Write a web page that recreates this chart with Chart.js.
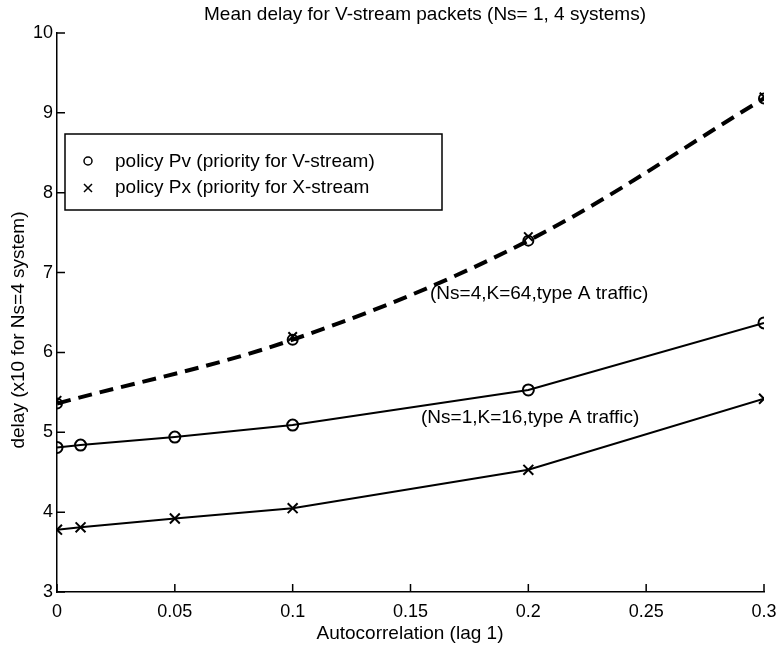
<!DOCTYPE html>
<html>
<head>
<meta charset="utf-8">
<script src="https://cdn.jsdelivr.net/npm/chart.js@4.4.1/dist/chart.umd.min.js"></script>
<style>
  html, body { margin: 0; padding: 0; background: #fff; }
  #wrap { width: 776px; height: 648px; position: relative; }
</style>
</head>
<body>
<div id="wrap"><canvas id="delayChart"></canvas></div>
<script>
// Mean delay for V-stream packets

// autocorrelation values
const xNs1 = [0, 0.01, 0.05, 0.1, 0.2, 0.3];
const xNs4 = [0, 0.1, 0.2, 0.3];

// Ns=1, K=16 system (solid)
const pvNs1 = [4.81, 4.84, 4.94, 5.09, 5.53, 6.37];
const pxNs1 = [3.78, 3.81, 3.92, 4.05, 4.53, 5.42];

// Ns=4, K=64 system, x10 (dashed)
const pvNs4 = [5.36, 6.16, 7.40, 9.18];
const pxNs4 = [5.40, 6.20, 7.45, 9.20];

const xTicks = [0, 0.05, 0.1, 0.15, 0.2, 0.25, 0.3];
const yTicks = [3, 4, 5, 6, 7, 8, 9, 10];

const titleText = 'Mean delay for V-stream packets (Ns= 1, 4 systems)';
const xTitle = 'Autocorrelation (lag 1)';
const yTitle = 'delay (x10 for Ns=4 system)';
const legendItems = ['policy Pv (priority for V-stream)', 'policy Px (priority for X-stream'];
const notes = ['(Ns=4,K=64,type A traffic)', '(Ns=1,K=16,type A traffic)'];

const FONT = '"Liberation Sans", Arial, Helvetica, sans-serif';

function pts(xs, ys) {
  return xs.map((x, i) => ({ x: x, y: ys[i] }));
}

// tick marks pointing into the plot, plus text and the boxed legend
const figurePlugin = {
  id: 'figure',
  afterDraw(chart) {
    const ctx = chart.ctx;
    const xs = chart.scales.x;
    const ys = chart.scales.y;
    const area = chart.chartArea;
    ctx.save();
    ctx.strokeStyle = '#000';
    ctx.lineWidth = 1.5;
    ctx.beginPath();
    xTicks.forEach(v => {
      const px = xs.getPixelForValue(v);
      ctx.moveTo(px, area.bottom);
      ctx.lineTo(px, area.bottom - 8);
    });
    yTicks.forEach(v => {
      const py = ys.getPixelForValue(v);
      ctx.moveTo(area.left, py);
      ctx.lineTo(area.left + 8, py);
    });
    ctx.stroke();

    ctx.fillStyle = '#000';
    ctx.font = '19px ' + FONT;
    ctx.textAlign = 'center';
    ctx.textBaseline = 'middle';
    ctx.fillText(titleText, 425, 15);
    ctx.fillText(xTitle, 410, 634);

    ctx.save();
    ctx.translate(19, 330);
    ctx.rotate(-Math.PI / 2);
    ctx.fillText(yTitle, 0, 0);
    ctx.restore();

    ctx.textAlign = 'left';
    ctx.fillText(notes[0], 430, 294);
    ctx.fillText(notes[1], 421, 418);

    // legend box
    ctx.lineWidth = 1.5;
    ctx.strokeRect(65, 134, 377, 76);
    ctx.font = '19px ' + FONT;
    ctx.fillText(legendItems[0], 115, 162);
    ctx.fillText(legendItems[1], 115, 188);
    ctx.lineWidth = 1.5;
    ctx.beginPath();
    ctx.arc(88, 161, 4, 0, Math.PI * 2);
    ctx.stroke();
    ctx.beginPath();
    ctx.moveTo(84, 184); ctx.lineTo(92, 192);
    ctx.moveTo(92, 184); ctx.lineTo(84, 192);
    ctx.stroke();
    ctx.restore();
  }
};

const solid = { borderColor: '#000', borderWidth: 2, tension: 0, fill: false,
  pointBorderColor: '#000', pointBackgroundColor: 'rgba(0,0,0,0)', pointBorderWidth: 2 };
const dashed = { borderColor: '#000', borderWidth: 4, borderDash: [14, 8], tension: 0.35,
  fill: false, pointBorderColor: '#000', pointBackgroundColor: 'rgba(0,0,0,0)', pointBorderWidth: 2 };

const ctx = document.getElementById('delayChart').getContext('2d');
const delayChart = new Chart(ctx, {
  type: 'line',
  data: {
    datasets: [
      Object.assign({ label: 'Pv Ns=4', data: pts(xNs4, pvNs4), pointStyle: 'circle', pointRadius: 5 }, dashed),
      // the two Ns=4 curves sit on top of each other; only the markers of Px show
      Object.assign({ label: 'Px Ns=4', data: pts(xNs4, pxNs4), pointStyle: 'crossRot', pointRadius: 6, showLine: false }, dashed),
      Object.assign({ label: 'Pv Ns=1', data: pts(xNs1, pvNs1), pointStyle: 'circle', pointRadius: 5.5 }, solid),
      Object.assign({ label: 'Px Ns=1', data: pts(xNs1, pxNs1), pointStyle: 'crossRot', pointRadius: 7 }, solid)
    ]
  },
  options: {
    responsive: true,
    maintainAspectRatio: false,
    animation: false,
    layout: { padding: { top: 33, right: 0, left: 0, bottom: 0 } },
    plugins: { legend: { display: false }, title: { display: false }, tooltip: { enabled: false } },
    scales: {
      x: {
        type: 'linear', min: 0, max: 0.3,
        afterFit(scale) { scale.height = 56; scale.paddingRight = 12; scale.paddingLeft = 0; },
        afterBuildTicks(scale) { scale.ticks = xTicks.map(v => ({ value: v })); },
        ticks: { color: '#000', font: { family: FONT, size: 18 }, padding: 9, maxRotation: 0,
          callback: v => String(v) },
        grid: { display: true, drawOnChartArea: false, drawTicks: false },
        border: { display: true, color: '#000', width: 1.5 }
      },
      y: {
        min: 3, max: 10,
        afterFit(scale) { scale.width = 57; },
        afterBuildTicks(scale) { scale.ticks = yTicks.map(v => ({ value: v })); },
        ticks: { color: '#000', font: { family: FONT, size: 18 }, padding: 4 },
        grid: { display: true, drawOnChartArea: false, drawTicks: false },
        border: { display: true, color: '#000', width: 1.5 }
      }
    }
  },
  plugins: [figurePlugin]
});
</script>
</body>
</html>
